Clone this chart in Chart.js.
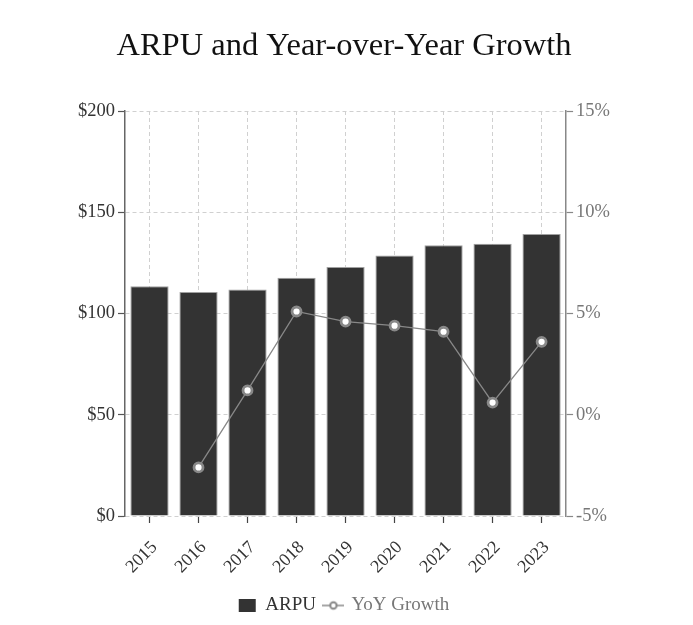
<!DOCTYPE html>
<html><head><meta charset="utf-8">
<script src="https://cdn.jsdelivr.net/npm/chart.js@4/dist/chart.umd.min.js"></script>
<style>html,body{margin:0;padding:0;background:#fff}</style>
</head><body>
<canvas id="c" width="693" height="625"></canvas>
<script>
const years = ['2015','2016','2017','2018','2019','2020','2021','2022','2023'];
const arpu = [113.4,110.6,111.9,117.6,123.0,128.6,133.7,134.5,139.2];
const yoyGrowth = [null,-2.6,1.2,5.1,4.6,4.4,4.1,0.6,3.6];
const leftTicks = [0,50,100,150,200];
const rightTicks = [-5,0,5,10,15];

const SERIF = "'Liberation Serif', 'DejaVu Serif', serif";

// legend marker for the line series: short line with a hollow circle
const lineMarker = document.createElement('canvas');
lineMarker.width = 22; lineMarker.height = 12;
(function(){
  const g = lineMarker.getContext('2d');
  g.strokeStyle = '#888'; g.lineWidth = 1.5;
  g.beginPath(); g.moveTo(0,6); g.lineTo(22,6); g.stroke();
  g.fillStyle = '#fff'; g.lineWidth = 2;
  g.beginPath(); g.arc(11,6,3.2,0,Math.PI*2); g.fill(); g.stroke();
})();

new Chart(document.getElementById('c'), {
  data: {
    labels: years,
    datasets: [
      {
        type: 'line', label: 'YoY Growth', data: yoyGrowth, yAxisID: 'y1', order: 0,
        borderColor: '#888', borderWidth: 1.3, pointRadius: 4.5, pointBorderWidth: 2.8,
        pointBackgroundColor: '#fff', pointBorderColor: '#888', spanGaps: false, tension: 0
      },
      {
        type: 'bar', label: 'ARPU', data: arpu, yAxisID: 'y', order: 1,
        backgroundColor: '#333333', borderColor: '#a0a0a0', borderWidth: 1,
        barPercentage: 1, categoryPercentage: 0.78
      }
    ]
  },
  options: {
    responsive: false, animation: false, devicePixelRatio: 1,
    layout: { padding: { left: 75, right: 80, top: 0, bottom: 0 } },
    plugins: {
      tooltip: { enabled: false },
      title: {
        display: true, text: 'ARPU and Year-over-Year Growth', color: '#111',
        font: { family: SERIF, size: 32.5, weight: 'normal' },
        padding: { top: 27, bottom: 45 }
      },
      legend: {
        position: 'bottom',
        labels: {
          font: { family: SERIF, size: 19 },
          usePointStyle: true, pointStyleWidth: 17, boxHeight: 13, padding: 9,
          generateLabels: () => [
            { text: 'ARPU', fillStyle: '#333', strokeStyle: '#333', lineWidth: 0, pointStyle: 'rect', fontColor: '#333', datasetIndex: 1 },
            { text: 'YoY Growth', fillStyle: '#fff', strokeStyle: '#888', lineWidth: 0, pointStyle: lineMarker, fontColor: '#777', datasetIndex: 0 }
          ]
        }
      }
    },
    scales: {
      x: {
        offset: true,
        afterFit: s => { s.height = 71; },
        grid: { offset: false, color: '#d0d0d0', lineWidth: 1, drawTicks: true, tickLength: 7, tickColor: '#444', tickWidth: 1.2 },
        border: { display: false, dash: [4,3] },
        ticks: { color: '#333', font: { family: SERIF, size: 18 }, maxRotation: 45, minRotation: 45, padding: 14, labelOffset: 5 }
      },
      y: {
        position: 'left', min: 0, max: 200,
        afterBuildTicks: s => { s.ticks = leftTicks.map(v => ({ value: v })); },
        grid: { color: '#d0d0d0', lineWidth: 1, tickLength: 7, tickColor: '#555', tickWidth: 1.2 },
        border: { display: true, color: '#666', width: 1.5, dash: [4,3] },
        ticks: { color: '#333', font: { family: SERIF, size: 18.5 }, padding: 3, callback: v => '$' + v }
      },
      y1: {
        position: 'right', min: -5, max: 15,
        afterBuildTicks: s => { s.ticks = rightTicks.map(v => ({ value: v })); },
        grid: { drawOnChartArea: false, tickLength: 7, tickColor: '#888', tickWidth: 1.2 },
        border: { display: true, color: '#888', width: 1.5 },
        ticks: { color: '#777', font: { family: SERIF, size: 18.5 }, padding: 3, callback: v => v + '%' }
      }
    }
  }
});
</script>
</body></html>
